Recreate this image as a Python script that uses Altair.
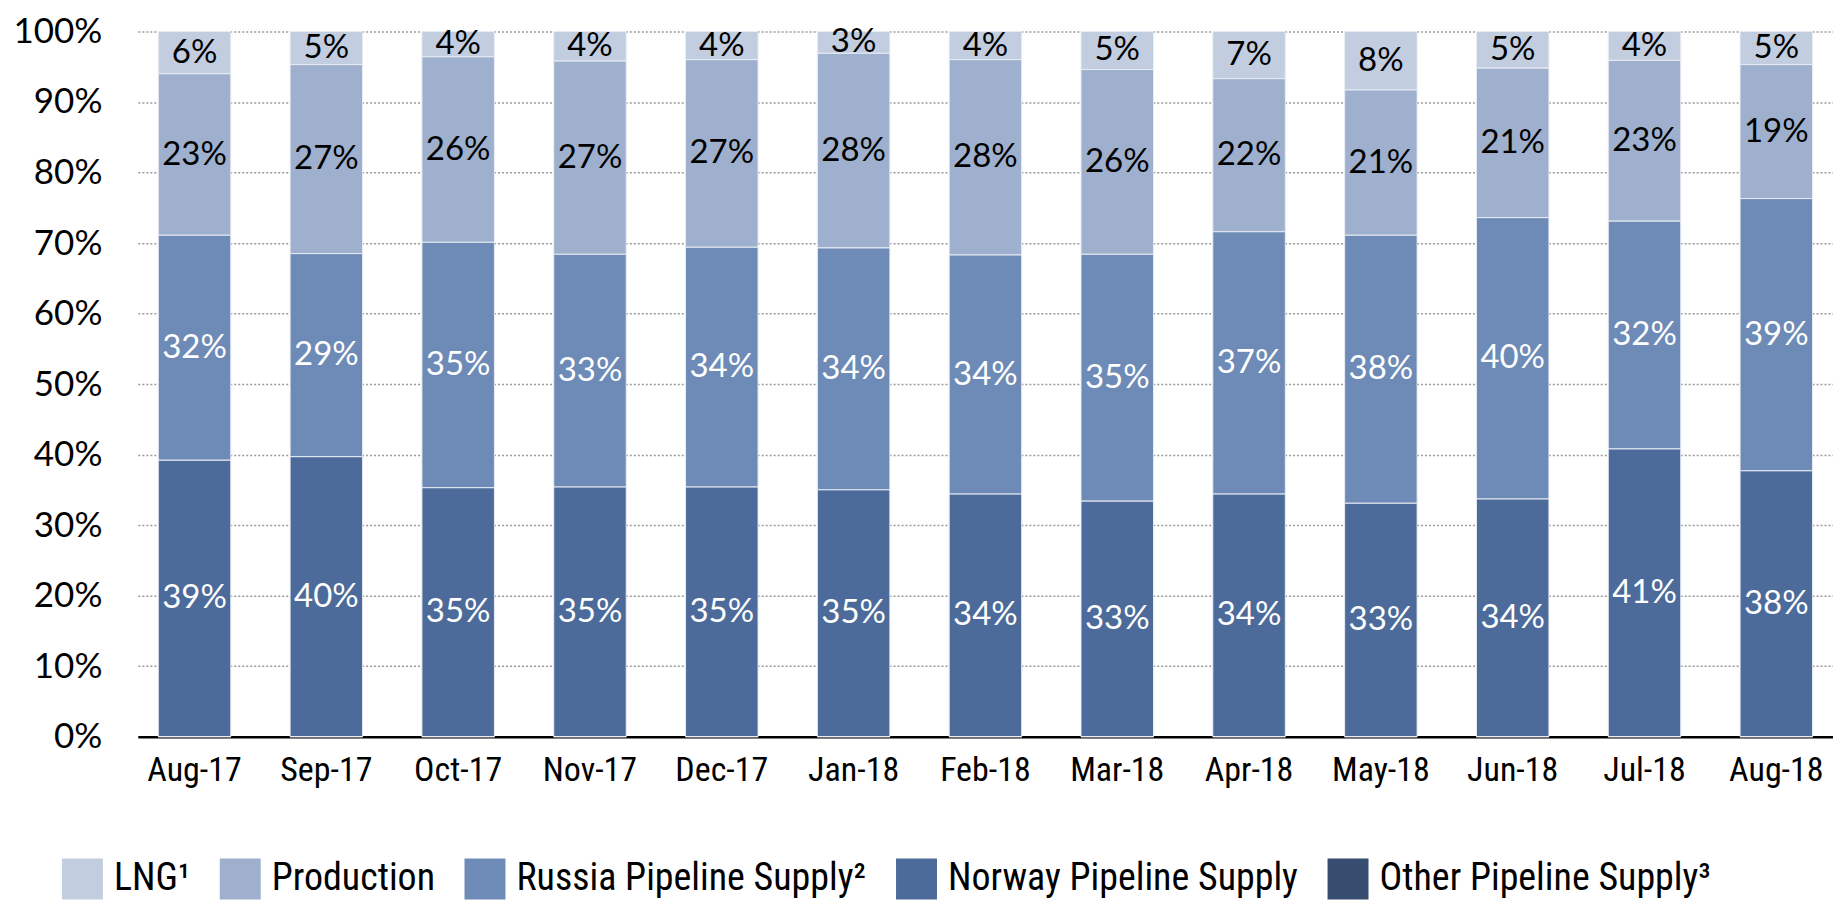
import altair as alt
import pandas as pd

months = ["Aug-17", "Sep-17", "Oct-17", "Nov-17", "Dec-17", "Jan-18", "Feb-18",
          "Mar-18", "Apr-18", "May-18", "Jun-18", "Jul-18", "Aug-18"]
norway = [39.2, 39.7, 35.3, 35.4, 35.4, 35.0, 34.4, 33.4, 34.4, 33.1, 33.7, 40.8, 37.7]
russia = [31.9, 28.8, 34.8, 33.0, 34.0, 34.3, 33.9, 35.0, 37.2, 38.0, 39.9, 32.3, 38.6]
production = [22.9, 26.8, 26.3, 27.4, 26.6, 27.6, 27.7, 26.2, 21.7, 20.6, 21.2, 22.8, 19.0]
lng = [6.0, 4.7, 3.6, 4.2, 4.0, 3.1, 4.0, 5.4, 6.7, 8.3, 5.2, 4.1, 4.7]
other = [0, 0, 0, 0, 0, 0, 0, 0, 0, 0, 0, 0, 0]

series_names = ["LNG\u00b9", "Production", "Russia Pipeline Supply\u00b2",
                "Norway Pipeline Supply", "Other Pipeline Supply\u00b3"]
colors = ["#c3cde0", "#9eb0cd", "#6d8bb6", "#4c6b9a", "#374d70"]
stack_order = [4, 3, 2, 1, 0]
series_vals = [lng, production, russia, norway, other]

rows = []
for i, m in enumerate(months):
    for name, vals, o in zip(series_names, series_vals, stack_order):
        rows.append({"month": m, "series": name, "value": vals[i], "ord": o})
df = pd.DataFrame(rows)

narrow = "Liberation Sans Narrow, Arial Narrow, Roboto Condensed, Lato, sans-serif"

base = alt.Chart(df).transform_stack(
    stack="value", groupby=["month"],
    sort=[alt.SortField("ord", order="ascending")], as_=["y0", "y1"]
).transform_calculate(
    mid="(datum.y0 + datum.y1) / 2",
    label="round(datum.value) + '%'"
)

xenc = alt.X(
    "month:N", sort=months,
    scale=alt.Scale(paddingInner=0.45, paddingOuter=0.155),
    axis=alt.Axis(title=None, labelAngle=0, ticks=False, domainColor="black",
                  domainWidth=2.5, labelFont=narrow, labelFontSize=34,
                  labelFontWeight="normal",
                  labelColor="black", labelPadding=17, grid=False),
)

bars = base.mark_bar(stroke="#e9edf4", strokeWidth=1).encode(
    x=xenc,
    y=alt.Y("y0:Q", scale=alt.Scale(domain=[0, 100], nice=False),
            axis=alt.Axis(title=None, values=list(range(0, 101, 10)),
                          labelExpr="datum.value + '%'", domain=False, ticks=False,
                          labelFont="Lato", labelFontSize=35, labelColor="black",
                          labelPadding=36, grid=True, gridDash=[2, 2],
                          gridColor="#9a9a9a", gridWidth=1.5)),
    y2="y1:Q",
    color=alt.Color("series:N",
                    scale=alt.Scale(domain=series_names, range=colors),
                    legend=alt.Legend(title=None, orient="none", direction="horizontal",
                                      legendX=-76, legendY=828, symbolType="square",
                                      symbolSize=1681, symbolStrokeWidth=0,
                                      symbolOpacity=1, labelFont=narrow,
                                      labelFontSize=38, labelColor="black",
                                      labelLimit=0,
                                      labelOffset=11, columnPadding=29, padding=0,
                                      columns=5)),
)

text = base.transform_filter("datum.value > 0").mark_text(
    font="Lato", fontSize=33, baseline="middle", align="center"
).encode(
    x=alt.X("month:N", sort=months),
    y=alt.Y("mid:Q"),
    text="label:N",
    color=alt.condition("datum.ord <= 2", alt.value("white"), alt.value("black")),
)

chart = alt.layer(bars, text).properties(
    width=1697, height=706,
    autosize=alt.AutoSizeParams(type="none"),
    padding={"left": 130, "top": 23, "right": 0, "bottom": 164},
).configure_view(stroke=None)

chart.save("out.html", embed_options={"renderer": "svg", "actions": False})
